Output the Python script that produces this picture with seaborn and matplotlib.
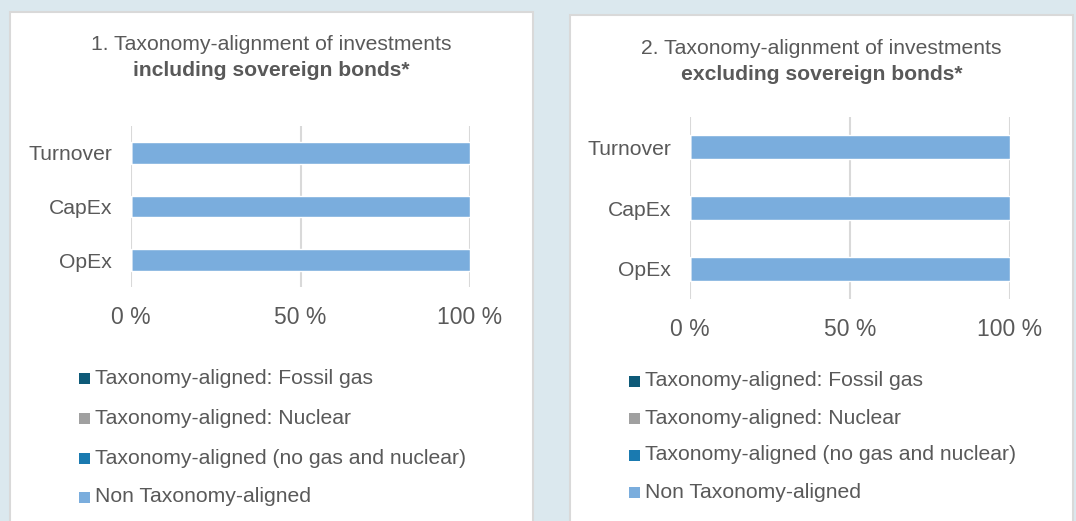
import numpy as np
import pandas as pd
import matplotlib
matplotlib.use("Agg")
import matplotlib.pyplot as plt
from matplotlib.patches import Rectangle
import seaborn as sns

# ---- data ----
categories = ["Turnover", "CapEx", "OpEx"]
series_names = [
    "Taxonomy-aligned: Fossil gas",
    "Taxonomy-aligned: Nuclear",
    "Taxonomy-aligned (no gas and nuclear)",
    "Non Taxonomy-aligned",
]
incl_fossil = [0, 0, 0]
incl_nuclear = [0, 0, 0]
incl_aligned = [0, 0, 0]
incl_non = [100, 100, 100]
excl_fossil = [0, 0, 0]
excl_nuclear = [0, 0, 0]
excl_aligned = [0, 0, 0]
excl_non = [100, 100, 100]
tick_values = [0, 50, 100]
tick_labels = ["0 %", "50 %", "100 %"]
titles = [
    ("1. Taxonomy-alignment of investments", "including sovereign bonds*"),
    ("2. Taxonomy-alignment of investments", "excluding sovereign bonds*"),
]

colors = ["#0e5a78", "#a0a0a0", "#1a7ab0", "#7aaddd"]
BG = "#dbe8ee"
TXT = "#595959"
GRID = "#d9d9d9"
FONT = "Liberation Sans"

sns.set_theme(style="white")
plt.rcParams["font.family"] = [FONT, "DejaVu Sans"]

W, H = 1076, 521
fig = plt.figure(figsize=(W / 100, H / 100), dpi=100, facecolor=BG)


def px_rect(x0, y0, x1, y1):
    return [x0 / W, (H - y1) / H, (x1 - x0) / W, (y1 - y0) / H]


# panels
for (x0, y0, x1, y1) in [(10, 12, 533, 530), (570, 15, 1073, 530)]:
    fig.patches.append(Rectangle((x0 / W, (H - y1) / H), (x1 - x0) / W, (y1 - y0) / H,
                                 transform=fig.transFigure, facecolor="white",
                                 edgecolor=GRID, linewidth=1.5, zorder=-5))

panels = [
    dict(axes=(131, 126, 470, 287), data=[incl_fossil, incl_nuclear, incl_aligned, incl_non],
         title_x=271.5, title_y=(45, 70), leg_x=79, leg_y=[378, 418, 458, 497]),
    dict(axes=(690, 117, 1010, 299), data=[excl_fossil, excl_nuclear, excl_aligned, excl_non],
         title_x=821.5, title_y=(49, 74), leg_x=629, leg_y=[381, 418, 455, 492]),
]

for p, (t1, t2) in zip(panels, titles):
    x0, y0, x1, y1 = p["axes"]
    ax = fig.add_axes(px_rect(x0, y0, x1, y1))
    ax.set_zorder(2)
    ax.set_facecolor("none")
    series = [np.array(s, dtype=float) for s in p["data"]]
    cum = np.cumsum(series, axis=0)
    # draw stacked: largest cumulative first
    for i in range(len(series) - 1, -1, -1):
        df = pd.DataFrame({"cat": categories, "val": cum[i]})
        sns.barplot(data=df, x="val", y="cat", orient="h", color=colors[i],
                    width=0.4, ax=ax, saturation=1, errorbar=None, zorder=3)
    ax.set_xlim(0, 100)
    ax.set_xticks(tick_values)
    ax.set_xticklabels(tick_labels)
    ax.set_xlabel("")
    ax.set_ylabel("")
    for s in ax.spines.values():
        s.set_visible(False)
    ax.grid(False)
    for v in tick_values:
        ax.axvline(v, color=GRID, lw=1.5, zorder=1)
    ax.tick_params(axis="x", length=0, pad=13.5, labelsize=16.5, colors=TXT)
    ax.tick_params(axis="y", length=0, pad=13.5, labelsize=15.2, colors=TXT)

    fig.text(p["title_x"] / W, 1 - p["title_y"][0] / H, t1, ha="center", va="center",
             fontsize=15.2, color=TXT)
    fig.text(p["title_x"] / W, 1 - p["title_y"][1] / H, t2, ha="center", va="center",
             fontsize=15.2, color=TXT, fontweight="bold")

    for name, col, ly in zip(series_names, colors, p["leg_y"]):
        sz = 11
        fig.patches.append(Rectangle((p["leg_x"] / W, (H - ly - sz / 2) / H), sz / W, sz / H,
                                     transform=fig.transFigure, facecolor=col,
                                     edgecolor="none", zorder=2))
        fig.text((p["leg_x"] + 16) / W, 1 - ly / H, name, ha="left", va="center",
                 fontsize=15.2, color=TXT)

fig.savefig("out.png", dpi=100, facecolor=BG)
